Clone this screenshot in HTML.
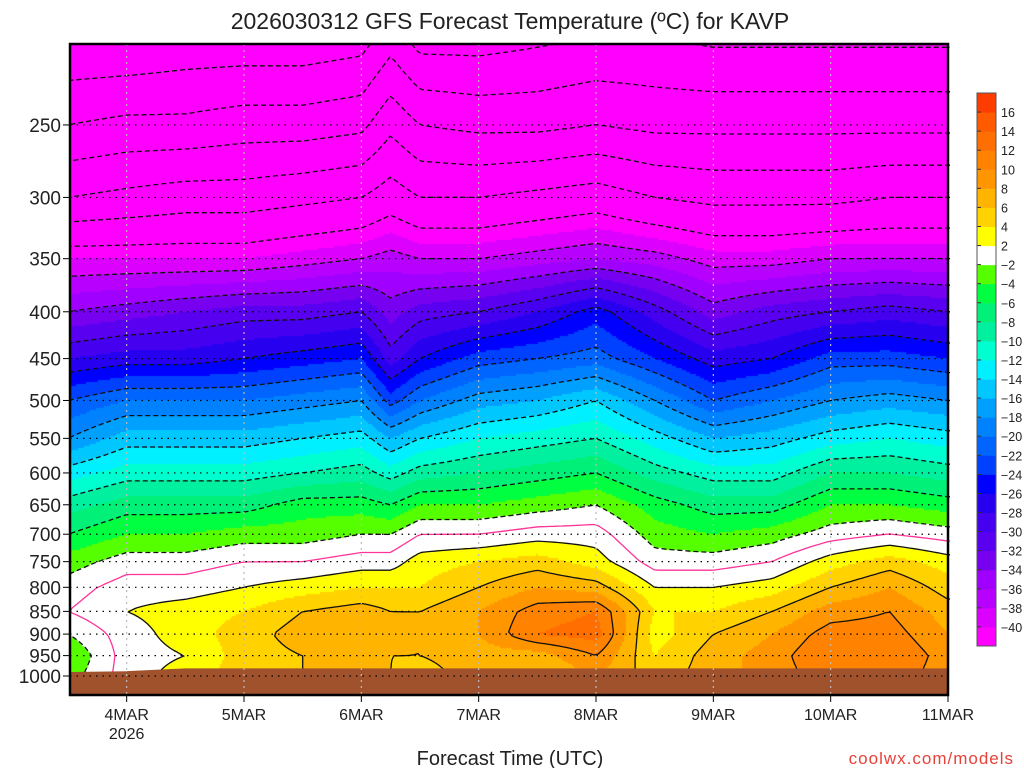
<!DOCTYPE html>
<html><head><meta charset="utf-8"><title>GFS Forecast Temperature KAVP</title>
<style>
html,body{margin:0;padding:0;background:#fff;}
#wrap{position:relative;width:1024px;height:768px;overflow:hidden;font-family:"Liberation Sans",sans-serif;}
#fill{position:absolute;left:0;top:0;}
#ov{position:absolute;left:0;top:0;}
text{font-family:"Liberation Sans",sans-serif;}
</style></head>
<body>
<div id="wrap">
<canvas id="fill" width="1024" height="768"></canvas>
<svg id="ov" width="1024" height="768">
<text x="510" y="29" text-anchor="middle" font-size="23" fill="#222">2026030312 GFS Forecast Temperature (ºC) for KAVP</text>
<g id="contours"></g>
<g id="ground"></g>
<g id="grid"></g>
<rect x="70" y="44" width="878" height="651" fill="none" stroke="#000" stroke-width="2.5"/>
<g id="yaxis"></g>
<g id="xaxis"></g>
<g id="cbar"></g>
<text x="510" y="765" text-anchor="middle" font-size="20" fill="#222">Forecast Time (UTC)</text>
<text x="1014" y="764" text-anchor="end" font-size="17" fill="#e8413a" letter-spacing="1">coolwx.com/models</text>
</svg>
</div>
<script>
// hours since 2026-03-03 12Z
const hours = [0,12,24,36,48,60,66,72,84,96,108,120,132,144,156,168,180];
const levels = [200,250,300,350,400,450,500,550,600,650,700,750,800,850,900,950,1000];
const col0 = [-66,-58,-50,-40,-34,-28,-22,-18,-13,-9,-6,-3,-1,0,-2,-4,-3];
const col1 = [-66,-57,-49,-40,-33,-27,-20,-15,-11,-7,-4,-1,1,2,1,1,1];
const col2 = [-65,-57,-48,-40,-32,-27,-20,-15,-11,-7,-4,-1,1,3,3,2,3];
const col3 = [-65,-56,-48,-40,-31,-26,-20,-15,-11,-7,-3,0,2,4,5,5,5];
const col4 = [-65,-56,-47,-39,-31,-25,-19,-14,-10,-5,-3,0,3,6,7,6,6];
const col5 = [-64,-55,-46,-38,-30,-24,-18,-13,-9,-5,-2,1,4,7,8,7,7];
const col5b = [-60,-51,-44,-37,-33,-29,-23,-16,-11,-6,-2,1,4,6,7,6,6];
const col6 = [-64,-54,-46,-38,-31,-26,-20,-14,-9,-4,0,3,4,6,6,6,5];
const col7 = [-64,-55,-46,-38,-30,-23,-17,-12,-8,-4,0,4,6,8,8,7,7];
const col8 = [-63,-55,-45,-37,-28,-22,-16,-11,-7,-3,1,5,8,11,12,7,6];
const col9 = [-62,-54,-44,-36,-25,-21,-14,-10,-6,-2,1,3,7,12,13,10,8];
const col10 = [-62,-55,-46,-37,-29,-24,-18,-13,-9,-5,-3,-1,2,4,3,4,5];
const col11 = [-63,-55,-47,-39,-33,-27,-22,-16,-11,-7,-4,-1,2,4,6,7,7];
const col12 = [-63,-55,-47,-39,-31,-26,-20,-15,-11,-7,-3,0,3,6,8,9,9];
const col13 = [-63,-55,-47,-38,-30,-23,-18,-13,-8,-4,-1,3,6,9,11,12,11];
const col14 = [-63,-55,-46,-38,-29,-23,-17,-12,-8,-4,0,5,8,10,11,12,11];
const col15 = [-63,-55,-46,-38,-30,-24,-18,-13,-9,-5,-1,3,5,7,8,9,9];
const surfacePressure = [990,988,981,981,981,981,981,981,981,981,981,981,981,981,981,981,981];
const yTickLabels = [250,300,350,400,450,500,550,600,650,700,750,800,850,900,950,1000];
const dayHours = [12,36,60,84,108,132,156,180];
const dayLabels = ["4MAR","5MAR","6MAR","7MAR","8MAR","9MAR","10MAR","11MAR"];
const cbarBounds = [-40,-38,-36,-34,-32,-30,-28,-26,-24,-22,-20,-18,-16,-14,-12,-10,-8,-6,-4,-2,2,4,6,8,10,12,14,16];
const binColors = ["#ff00ff","#dc00ff","#b800ff","#a000ff","#7800f0","#5a00f0","#4600f0","#2800f0","#0000ff","#0040ff","#0064ff","#0082ff","#00a0ff","#00c8ff","#00f0ff","#00ffd0","#00f0a0","#00f078","#00ff40","#55ff00","#ffffff","#ffff00","#ffd200","#ffb400","#ff9600","#ff8200","#ff6e00","#ff5a00","#ff3c00"];
</script>
<script>
const cols=[col0,col1,col2,col3,col4,col5,col5b,col6,col7,col8,col9,col10,col11,col12,col13,col14,col15];
const NS="http://www.w3.org/2000/svg";
const X0=68, PX_PER_H=4.8889;
function xOf(h){return X0+h*PX_PER_H;}
function yOf(p){return 676-397.5*(Math.log(1000)-Math.log(p));}
function hOf(x){return (x-X0)/PX_PER_H;}
function lpOf(y){return Math.log(1000)-(676-y)/397.5;}
const lnLev=levels.map(p=>Math.log(p));
function val(h,lp){
  let i=0; while(i<hours.length-2 && h>hours[i+1]) i++;
  let ft=(h-hours[i])/(hours[i+1]-hours[i]); ft=Math.max(0,Math.min(1,ft));
  let j=0; while(j<lnLev.length-2 && lp>lnLev[j+1]) j++;
  let fp=(lp-lnLev[j])/(lnLev[j+1]-lnLev[j]); fp=Math.max(0,Math.min(1,fp));
  const a=cols[i][j],b=cols[i+1][j],c=cols[i][j+1],d=cols[i+1][j+1];
  return (a*(1-ft)+b*ft)*(1-fp)+(c*(1-ft)+d*ft)*fp;
}
function colorOf(v){let k=0; while(k<cbarBounds.length && v>=cbarBounds[k]) k++; return binColors[k];}
const ctx=document.getElementById('fill').getContext('2d');
const S=2;
for(let x=70;x<948;x+=S){const h=hOf(x+S/2);
  for(let y=44;y<695;y+=S){ctx.fillStyle=colorOf(val(h,lpOf(y+S/2)));ctx.fillRect(x,y,S,S);}}
const G=4, nx=Math.ceil(878/G)+1, ny=Math.ceil(651/G)+1;
const grid=[];for(let i=0;i<nx;i++){grid.push([]);for(let j=0;j<ny;j++){grid[i].push(val(hOf(70+i*G),lpOf(44+j*G)));}}
const cg=document.getElementById('contours');
function key(p){return p[0].toFixed(2)+","+p[1].toFixed(2);}
function contour(L,stroke,dash,w){
  const segs=[];
  for(let i=0;i<nx-1;i++)for(let j=0;j<ny-1;j++){
    const v=[grid[i][j],grid[i+1][j],grid[i+1][j+1],grid[i][j+1]];
    const px=[70+i*G,70+(i+1)*G,70+(i+1)*G,70+i*G], py=[44+j*G,44+j*G,44+(j+1)*G,44+(j+1)*G];
    const pts=[];
    for(let e=0;e<4;e++){const a=v[e],b=v[(e+1)%4];
      if((a<L)!==(b<L)){const t=(L-a)/(b-a);pts.push([px[e]+(px[(e+1)%4]-px[e])*t,py[e]+(py[(e+1)%4]-py[e])*t]);}}
    for(let k=0;k+1<pts.length;k+=2)segs.push([pts[k],pts[k+1]]);
  }
  const map={};
  segs.forEach((s,idx)=>{[0,1].forEach(e=>{const k=key(s[e]);(map[k]=map[k]||[]).push(idx);});});
  const used=new Array(segs.length).fill(false);
  let d="";
  function extend(line,end){
    while(true){const k=key(end);const c=(map[k]||[]).find(ix=>!used[ix]);if(c===undefined)break;
      used[c]=true;const s=segs[c];const nxt=key(s[0])===k?s[1]:s[0];line.push(nxt);end=nxt;}
  }
  for(let s=0;s<segs.length;s++){if(used[s])continue;used[s]=true;
    const fwd=[segs[s][1]];extend(fwd,segs[s][1]);
    const bwd=[segs[s][0]];extend(bwd,segs[s][0]);
    const line=bwd.reverse().concat(fwd);
    d+="M"+line.map(p=>p[0].toFixed(1)+" "+p[1].toFixed(1)).join("L");
  }
  const p=document.createElementNS(NS,'path');
  p.setAttribute('d',d);p.setAttribute('fill','none');p.setAttribute('stroke',stroke);p.setAttribute('stroke-width',w);
  if(dash)p.setAttribute('stroke-dasharray',dash);
  
  
  cg.appendChild(p);
}
for(let L=-66;L<=14;L+=4){contour(L,'#111',L<0?'5,3':null,1.3);}
contour(0,'#ff3399',null,1.3);
const gp=document.createElementNS(NS,'polygon');
let gpts=[];hours.forEach((h,i)=>{gpts.push(Math.max(70,Math.min(948,xOf(h)))+","+yOf(surfacePressure[i]));});
gpts.push("948,695","70,695");
gp.setAttribute('points',gpts.join(' '));gp.setAttribute('fill','#a0522d');


document.getElementById('ground').appendChild(gp);
const gg=document.getElementById('grid'), ya=document.getElementById('yaxis'), xa=document.getElementById('xaxis');
yTickLabels.forEach(p=>{const y=yOf(p);
  const l=document.createElementNS(NS,'line');l.setAttribute('x1',70);l.setAttribute('x2',948);l.setAttribute('y1',y);l.setAttribute('y2',y);
  l.setAttribute('stroke','#000');l.setAttribute('stroke-width','1.2');l.setAttribute('stroke-dasharray','1.5,5');
  
  
  gg.appendChild(l);
  const t=document.createElementNS(NS,'line');t.setAttribute('x1',63);t.setAttribute('x2',70);t.setAttribute('y1',y);t.setAttribute('y2',y);t.setAttribute('stroke','#000');
  
  
  ya.appendChild(t);
  const tx=document.createElementNS(NS,'text');tx.setAttribute('x',61);tx.setAttribute('y',y+7);tx.setAttribute('text-anchor','end');tx.setAttribute('font-size','19');tx.setAttribute('fill','#222');tx.textContent=p;
  
  
  ya.appendChild(tx);
});
dayHours.forEach((h,i)=>{const x=xOf(h);
  if(x<947){const l=document.createElementNS(NS,'line');l.setAttribute('x1',x);l.setAttribute('x2',x);l.setAttribute('y1',44);l.setAttribute('y2',695);
  l.setAttribute('stroke','#bbb');l.setAttribute('stroke-width','1.2');l.setAttribute('stroke-dasharray','2,4');
  
  
  gg.appendChild(l);}
  const t=document.createElementNS(NS,'line');t.setAttribute('x1',x);t.setAttribute('x2',x);t.setAttribute('y1',695);t.setAttribute('y2',702);t.setAttribute('stroke','#000');
  
  
  xa.appendChild(t);
  const tx=document.createElementNS(NS,'text');tx.setAttribute('x',x);tx.setAttribute('y',720);tx.setAttribute('text-anchor','middle');tx.setAttribute('font-size','16');tx.setAttribute('fill','#222');tx.textContent=dayLabels[i];
  
  
  xa.appendChild(tx);
});
const yr=document.createElementNS(NS,'text');yr.setAttribute('x',xOf(12));yr.setAttribute('y',739);yr.setAttribute('text-anchor','middle');yr.setAttribute('font-size','16');yr.setAttribute('fill','#222');yr.textContent='2026';


xa.appendChild(yr);
const cb=document.getElementById('cbar');
const cbTop=93, cbBot=646, nb=binColors.length, bh=(cbBot-cbTop)/nb;
for(let k=0;k<nb;k++){const r=document.createElementNS(NS,'rect');
  r.setAttribute('x',977);r.setAttribute('y',cbBot-(k+1)*bh);r.setAttribute('width',19);r.setAttribute('height',bh+0.5);r.setAttribute('fill',binColors[k]);
  
  
  cb.appendChild(r);}
cbarBounds.forEach((b,k)=>{const y=cbBot-(k+1)*bh;
  const t=document.createElementNS(NS,'text');t.setAttribute('x',1001);t.setAttribute('y',y+5);t.setAttribute('font-size','12.5');t.setAttribute('fill','#222');t.textContent=(b<0?'\u2212'+(-b):b);
  
  
  cb.appendChild(t);
  const l=document.createElementNS(NS,'line');l.setAttribute('x1',977);l.setAttribute('x2',981);l.setAttribute('y1',y);l.setAttribute('y2',y);l.setAttribute('stroke','#333');
  
  
  cb.appendChild(l);});
const cbr=document.createElementNS(NS,'rect');cbr.setAttribute('x',977);cbr.setAttribute('y',cbTop);cbr.setAttribute('width',19);cbr.setAttribute('height',cbBot-cbTop);cbr.setAttribute('fill','none');cbr.setAttribute('stroke','#555');


cb.appendChild(cbr);
</script>
</body></html>
